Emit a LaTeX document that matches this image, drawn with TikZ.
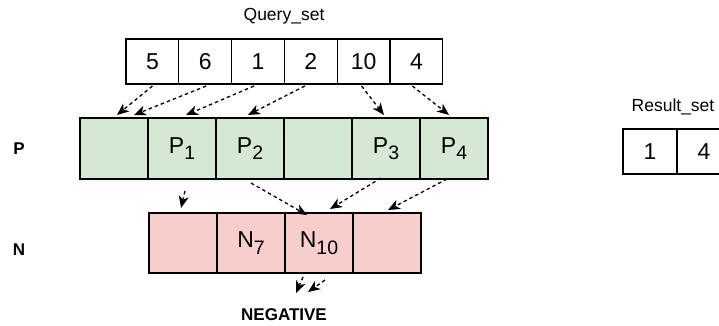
\documentclass[tikz,border=0pt]{standalone}
\usepackage{fontspec}
\setmainfont{Liberation Sans}
\usetikzlibrary{arrows.meta, positioning, calc}
\definecolor{pfill}{HTML}{D5E8D4}
\definecolor{nfill}{HTML}{F8CECC}
\newcommand\lowsub[1]{\raisebox{-0.28em}{\fontsize{19.5}{19.5}\selectfont #1}}

\begin{document}
\begin{tikzpicture}[x=1pt, y=-1pt,
    cell/.style={draw=black, line width=1.1pt, inner sep=0pt, outer sep=0pt, font=\fontsize{23}{27}\selectfont},
    qcell/.style={cell, minimum width=52.8pt, minimum height=45pt},
    pcell/.style={cell, fill=pfill, minimum width=68pt, minimum height=61pt},
    ncell/.style={cell, fill=nfill, minimum width=68pt, minimum height=60pt},
    rcell/.style={cell, minimum width=54pt, minimum height=45pt},
    lab/.style={font=\fontsize{17.5}{20}\selectfont},
    tag/.style={font=\bfseries\fontsize{17}{20}\selectfont},
    link/.style={dash pattern=on 3.5pt off 3pt, line width=1.3pt, -{Stealth[length=12pt, width=10pt, inset=3.5pt]}},
]
\clip (0,0) rectangle (719,325);
\def\Qx#1{126 + (#1-0.5)*52.8}
\def\Px#1{80 + (#1-0.5)*68}
\def\Nx#1{149 + (#1-0.5)*68}
\def\Rx#1{623 + (#1-0.5)*54}

% ---------------- query set
\node[lab] (qtitle) at (284, 16) {Query\_set};
\foreach \v [count=\i] in {5,6,1,2,10,4}{
    \node[qcell] (q\i) at ({\Qx{\i}}, 61.5) {\v};
}

% ---------------- P and N rows
\node[tag] (ptag) at (19, 149) {P};
\foreach \t [count=\i] in {{}, P\lowsub{1}, P\lowsub{2}, {}, P\lowsub{3}, P\lowsub{4}}{
    \node[pcell] (p\i) at ({\Px{\i}}, 148.5) {\t};
}
\node[tag] (ntag) at (19, 250) {N};
\foreach \t [count=\i] in {{}, N\lowsub{7}, N\lowsub{10}, {}}{
    \node[ncell] (n\i) at ({\Nx{\i}}, 243) {\t};
}
\node[tag] (neg) at (284, 315) {NEGATIVE};

% ---------------- result set
\node[lab] (rtitle) at (673, 107) {Result\_set};
\foreach \v [count=\i] in {1,4}{
    \node[rcell] (r\i) at ({\Rx{\i}}, 151.5) {\v};
}

% ---------------- links
\foreach \s/\ds/\t/\dt in {1/0/1/3, 2/1/1/20, 3/-4/2/4, 4/-6/3/-2, 5/-2/5/-2, 6/-4/6/-5}{
    \draw[link] ($(q\s.south)+(\ds,2)$) -- ($(p\t.north)+(\dt,-3)$);
}
\draw[link] ($(p2.south)+(3,12)$) -- ($(n1.north)+(-2,-5)$);
\draw[link] ($(p3.south)+(1,4)$) -- ($(n3.north)+(-12,2)$);
\draw[link] ($(p5.south)+(-5,-1)$) -- ($(n3.north)+(11,-4)$);
\draw[link] ($(p6.south)+(-7,0)$) -- ($(n4.north)+(1,-3)$);
\draw[link] ($(n3.south)+(-16,4)$) -- ($(n3.south)+(-23,20)$);
\draw[link] ($(n3.south)+(6,7)$) -- ($(n3.south)+(-11,19)$);

\end{tikzpicture}
\end{document}
